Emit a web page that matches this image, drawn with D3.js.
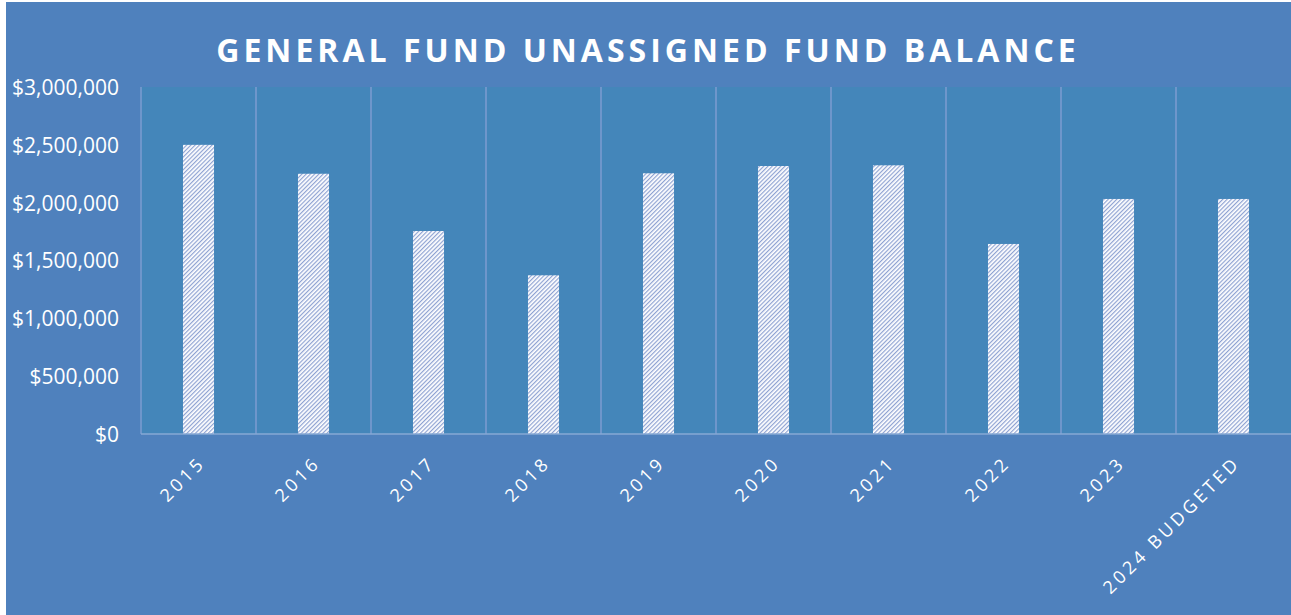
<!DOCTYPE html>
<html lang="en">
<head>
<meta charset="UTF-8">
<title>General Fund Unassigned Fund Balance</title>
<script src="https://d3js.org/d3.v7.min.js"></script>
<style>
  body { margin: 0; background: #fff; }
  svg { display: block; }
  .title { font-family: "Open Sans", sans-serif; font-weight: bold; fill: #fff; }
  .tick text { font-family: "Open Sans", sans-serif; fill: #fff; }
</style>
</head>
<body>
<svg id="chart" width="1291" height="615"></svg>
<script>
// data
const years = ["2015", "2016", "2017", "2018", "2019", "2020", "2021", "2022", "2023", "2024 BUDGETED"];
const balances = [2500000, 2250000, 1755000, 1372000, 2254000, 2317000, 2323000, 1643000, 2032000, 2032000];
const yTicks = [0, 500000, 1000000, 1500000, 2000000, 2500000, 3000000];

const W = 1291, H = 615;
const plot = { left: 141, right: 1291, top: 87, bottom: 434 };

const svg = d3.select("#chart");

// hatch pattern for the bars
const defs = svg.append("defs");
const pat = defs.append("pattern")
    .attr("id", "hatch")
    .attr("patternUnits", "userSpaceOnUse")
    .attr("width", 3).attr("height", 3)
    .attr("patternTransform", "rotate(45)");
pat.append("rect").attr("width", 3).attr("height", 3).attr("fill", "#fff");
pat.append("line")
    .attr("x1", 0.6).attr("y1", 0).attr("x2", 0.6).attr("y2", 3)
    .attr("stroke", "#8ea2d2").attr("stroke-width", 1.2);

// outer background
svg.append("rect")
    .attr("x", 6).attr("y", 2)
    .attr("width", W - 6).attr("height", H - 2)
    .attr("fill", "#4f81bd");

// plot area
svg.append("rect")
    .attr("x", plot.left).attr("y", plot.top)
    .attr("width", plot.right - plot.left).attr("height", plot.bottom - plot.top)
    .attr("fill", "#4486ba");

const x = d3.scaleBand()
    .domain(years)
    .range([plot.left, plot.right])
    .paddingInner(0.73)
    .paddingOuter(0.365);

const y = d3.scaleLinear()
    .domain([0, 3000000])
    .range([plot.bottom, plot.top]);

// vertical separators between categories
const step = x.step();
svg.append("g")
    .selectAll("line")
    .data(d3.range(years.length))
    .join("line")
    .attr("x1", i => plot.left + i * step)
    .attr("x2", i => plot.left + i * step)
    .attr("y1", plot.top)
    .attr("y2", plot.bottom)
    .attr("stroke", "#6e96cb")
    .attr("stroke-width", 2);

// bars
svg.append("g")
    .selectAll("rect")
    .data(balances)
    .join("rect")
    .attr("x", (d, i) => x(years[i]))
    .attr("y", d => y(d))
    .attr("width", x.bandwidth())
    .attr("height", d => y(0) - y(d))
    .attr("fill", "url(#hatch)");

// baseline
svg.append("line")
    .attr("x1", plot.left).attr("x2", plot.right)
    .attr("y1", plot.bottom).attr("y2", plot.bottom)
    .attr("stroke", "#86a8d4")
    .attr("stroke-width", 1.5);

// y axis
const yAxis = svg.append("g")
    .attr("transform", `translate(${plot.left},0)`)
    .call(d3.axisLeft(y)
        .tickValues(yTicks)
        .tickSize(0)
        .tickPadding(22)
        .tickFormat(d => "$" + d3.format(",")(d)));
yAxis.select(".domain").remove();
yAxis.selectAll("text").attr("font-size", 21).attr("dy", "0.35em");

// x axis
const xAxis = svg.append("g")
    .attr("transform", `translate(0,${plot.bottom})`)
    .call(d3.axisBottom(x).tickSize(0).tickPadding(0));
xAxis.select(".domain").remove();
xAxis.selectAll("text")
    .attr("font-size", 18)
    .attr("letter-spacing", "3.5px")
    .attr("text-anchor", "end")
    .attr("dy", 0)
    .attr("transform", "translate(8,30) rotate(-45)");

// title
svg.append("text")
    .attr("class", "title")
    .attr("x", 648)
    .attr("y", 62)
    .attr("text-anchor", "middle")
    .attr("font-size", 32)
    .attr("letter-spacing", "4px")
    .text("GENERAL FUND UNASSIGNED FUND BALANCE");
</script>
</body>
</html>
